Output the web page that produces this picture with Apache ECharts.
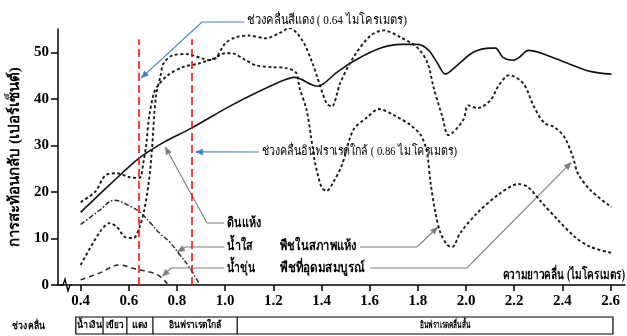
<!DOCTYPE html>
<html><head><meta charset="utf-8">
<script src="https://cdn.jsdelivr.net/npm/echarts@6/dist/echarts.min.js"></script>
<style>html,body{margin:0;padding:0;background:#fff}#c{width:627px;height:336px}</style>
</head><body><div id="c"></div>
<script>
// ---- data ----
const xTicks = [0.4, 0.6, 0.8, 1.0, 1.2, 1.4, 1.6, 1.8, 2.0, 2.2, 2.4, 2.6];
const yTicks = [0, 10, 20, 30, 40, 50];

const soilX = [0.40, 0.52, 0.644, 0.75, 0.86, 1.026, 1.225, 1.288, 1.383, 1.464, 1.540, 1.646, 1.729, 1.80, 1.845, 1.882, 1.914, 1.963, 2.030, 2.102, 2.123, 2.153, 2.196, 2.221, 2.258, 2.313, 2.424, 2.516, 2.604];
const soilY = [15.6, 21.5, 27.3, 30.8, 33.7, 38.6, 43.6, 44.6, 42.7, 45.7, 48.3, 50.9, 51.7, 51.7, 50.4, 47.6, 45.3, 47.2, 50.0, 50.9, 50.9, 48.9, 48.3, 48.9, 50.4, 49.8, 47.6, 45.9, 45.3];

const vegHealthyX = [0.40, 0.48, 0.52, 0.552, 0.584, 0.62, 0.644, 0.664, 0.684, 0.696, 0.712, 0.732, 0.744, 0.784, 0.84, 0.904, 0.932, 1.00, 1.026, 1.085, 1.128, 1.196, 1.254, 1.296, 1.308, 1.338, 1.363, 1.371, 1.40, 1.421, 1.447, 1.485, 1.532, 1.591, 1.638, 1.70, 1.771, 1.812, 1.833, 1.841, 1.853, 1.873, 1.894, 1.922, 1.943, 1.976, 2.047, 2.132, 2.217, 2.258, 2.313, 2.383, 2.448, 2.516, 2.604];
const vegHealthyY = [4.3, 11.4, 13.3, 12.4, 10.3, 10.1, 12.4, 16.1, 22.5, 29, 40.3, 45, 47.6, 49.4, 49.6, 48.7, 48.3, 49.8, 49.8, 48.3, 47.2, 46.8, 46.6, 45.5, 42.5, 37.6, 29.6, 26.8, 21, 20.2, 21.9, 25.8, 33.3, 36.1, 37.8, 36.5, 34.3, 32.2, 29.6, 27.5, 21.9, 15.5, 11.2, 8.6, 8.2, 11.2, 15.5, 19.3, 21.7, 21, 17.8, 13.9, 10.5, 8.2, 6.9];

const vegDryX = [0.40, 0.46, 0.504, 0.552, 0.60, 0.644, 0.66, 0.672, 0.684, 0.704, 0.72, 0.76, 0.824, 0.892, 0.932, 0.96, 1.00, 1.043, 1.098, 1.17, 1.225, 1.267, 1.32, 1.363, 1.421, 1.443, 1.477, 1.532, 1.604, 1.658, 1.729, 1.80, 1.841, 1.865, 1.902, 1.927, 1.988, 2.009, 2.047, 2.102, 2.136, 2.179, 2.238, 2.283, 2.325, 2.367, 2.408, 2.444, 2.464, 2.516, 2.604];
const vegDryY = [17.8, 20, 23.6, 24, 23.2, 23, 26.2, 30, 36, 41.2, 42.8, 45, 46.8, 47.6, 48.3, 48.7, 51.9, 53.2, 53.6, 53, 54.1, 55.2, 52.6, 47.6, 39, 38.4, 43.3, 48.9, 53.6, 54.7, 53.2, 50.9, 47.6, 42.5, 36.1, 32.2, 35.4, 38.6, 38, 39.7, 42.9, 45.1, 43.3, 38.2, 34.8, 33.9, 31.8, 27.5, 24, 20.4, 16.7];

const clearWaterX = [0.40, 0.48, 0.54, 0.61, 0.65, 0.69, 0.73, 0.77, 0.81, 0.85, 0.89];
const clearWaterY = [13.0, 16.1, 18.2, 16.8, 15.5, 13.3, 11.0, 9.2, 6.6, 3.9, 0.5];

const turbidWaterX = [0.40, 0.48, 0.56, 0.63, 0.70, 0.73, 0.76];
const turbidWaterY = [1.1, 2.6, 4.3, 3.4, 2.6, 1.8, 0.3];

const redBand = 0.64, nirBand = 0.86;
const bandNames = ['น้ำเงิน', 'เขียว', 'แดง', 'อินฟราเรดใกล้', 'อินฟราเรดคลื่นสั้น'];
const bandEdges = [0.38, 0.493, 0.592, 0.7, 1.05, 2.61];

const pairs = (xs, ys) => xs.map((x, i) => [x, ys[i]]);

const SERIF = "'Liberation Serif','DejaVu Serif',serif";
const chart = echarts.init(document.getElementById('c'), null, {renderer: 'canvas'});

chart.setOption({
  animation: false,
  backgroundColor: '#fff',
  grid: {left: 57, right: 2, top: 29, bottom: 51},
  xAxis: {
    type: 'value', min: 0.306, max: 2.66,
    axisLine: {lineStyle: {color: '#000', width: 1.5}},
    axisTick: {customValues: xTicks, length: 6, lineStyle: {color: '#000', width: 1.5}},
    axisLabel: {customValues: xTicks, formatter: v => v.toFixed(1), color: '#000',
      fontFamily: SERIF, fontWeight: 'bold', fontSize: 15, margin: 9},
    splitLine: {show: false}
  },
  yAxis: {
    type: 'value', min: 0, max: 55,
    name: 'การสะท้อนกลับ (เปอร์เซ็นต์)', nameLocation: 'middle', nameGap: 35, nameRotate: 90,
    nameTextStyle: {color: '#000', fontFamily: SERIF, fontWeight: 'bold', fontSize: 15},
    axisLine: {show: true, lineStyle: {color: '#000', width: 1.5}},
    axisTick: {show: true, customValues: yTicks, length: 7, lineStyle: {color: '#000', width: 1.5}},
    axisLabel: {customValues: yTicks, color: '#000', fontFamily: SERIF, fontWeight: 'bold', fontSize: 15, margin: 9},
    splitLine: {show: false}
  },
  series: [
    {name: 'ดินแห้ง', type: 'line', data: pairs(soilX, soilY), smooth: 0.3, symbol: 'none', silent: true,
      lineStyle: {color: '#111', width: 1.6}},
    {name: 'พืชที่อุดมสมบูรณ์', type: 'line', data: pairs(vegHealthyX, vegHealthyY), smooth: 0.3, symbol: 'none', silent: true,
      lineStyle: {color: '#1a1a1a', width: 1.9, type: [3, 2.5]}},
    {name: 'พืชในสภาพแห้ง', type: 'line', data: pairs(vegDryX, vegDryY), smooth: 0.3, symbol: 'none', silent: true,
      lineStyle: {color: '#1a1a1a', width: 1.9, type: [3, 2.5]}},
    {name: 'น้ำใส', type: 'line', data: pairs(clearWaterX, clearWaterY), smooth: 0.4, symbol: 'none', silent: true,
      lineStyle: {color: '#222', width: 1.4, type: [5, 2, 1.5, 2]}},
    {name: 'น้ำขุ่น', type: 'line', data: pairs(turbidWaterX, turbidWaterY), smooth: 0.4, symbol: 'none', silent: true,
      lineStyle: {color: '#222', width: 1.5, type: [5, 4]}},
    {name: 'bands', type: 'line', data: [], silent: true,
      markLine: {symbol: 'none', silent: true, label: {show: false},
        lineStyle: {color: '#ff0000', width: 1.5, type: [8, 4]},
        data: [
          [{coord: [redBand, 0]}, {coord: [redBand, 52.8]}],
          [{coord: [nirBand, 0]}, {coord: [nirBand, 52.8]}]
        ]}}
  ]
});

// ---- annotations ----
const P = (x, y) => chart.convertToPixel({gridIndex: 0}, [x, y]);
const mctx = document.createElement('canvas').getContext('2d');
function arrow(pts, color, w) {
  const n = pts.length, t = pts[n - 1], p = pts[n - 2];
  let dx = t[0] - p[0], dy = t[1] - p[1];
  const len = Math.hypot(dx, dy); dx /= len; dy /= len;
  const L = 7, W = 3;
  const a = [t[0] - dx * L - dy * W, t[1] - dy * L + dx * W];
  const b = [t[0] - dx * L + dy * W, t[1] - dy * L - dx * W];
  return [
    {type: 'polyline', silent: true, shape: {points: pts}, style: {stroke: color, lineWidth: w, fill: null}},
    {type: 'polygon', silent: true, shape: {points: [a, t, b]}, style: {fill: color, stroke: color, lineWidth: 0.5}}
  ];
}
// text squeezed horizontally to the width it has in the reference
function fitTxt(text, x, y, font, targetW, align) {
  mctx.font = font;
  const w = mctx.measureText(text).width || targetW;
  const s = Math.min(1.2, targetW / w);
  return {type: 'text', silent: true, x: x, y: y, scaleX: s,
    style: {text: text, x: 0, y: 0, font: font, fill: '#000', textAlign: align || 'left', textVerticalAlign: 'middle'}};
}
const BLUE = '#4a7ebb', GRAY = '#7f7f7f';
const reg13 = '13px ' + SERIF, bold14 = 'bold 14px ' + SERIF, bold10 = 'bold 10px ' + SERIF;
let g = [];
// red band note
g = g.concat(arrow([[244, 22], [202, 22], P(0.652, 44.5)], BLUE, 1.2));
g.push(fitTxt('ช่วงคลื่นสีแดง ( 0.64 ไมโครเมตร)', 247, 21, reg13, 160));
// nir band note
g = g.concat(arrow([[259, 152], P(0.878, 28.6)], BLUE, 1.2));
g.push(fitTxt('ช่วงคลื่นอินฟราเรดใกล้ ( 0.86 ไมโครเมตร)', 262, 152, reg13, 195));
// dry soil
g = g.concat(arrow([[224, 223], [207, 223], P(0.752, 29.6)], GRAY, 1.2));
g.push(fitTxt('ดินแห้ง', 227, 223, bold14, 34));
// clear water
g = g.concat(arrow([[224, 247], [186, 247], P(0.802, 7.2)], GRAY, 1.2));
g.push(fitTxt('น้ำใส', 227, 246, bold14, 26));
// turbid water
g = g.concat(arrow([[224, 268], [171, 268], P(0.74, 1.9)], GRAY, 1.2));
g.push(fitTxt('น้ำขุ่น', 227, 268, bold14, 28));
// dry vegetation
g = g.concat(arrow([[360, 247], [417, 247], P(1.882, 12.4)], GRAY, 1.2));
g.push(fitTxt('พืชในสภาพแห้ง', 280, 246, bold14, 77));
// healthy vegetation
g = g.concat(arrow([[370, 268], [467, 268], P(2.436, 26.3)], GRAY, 1.2));
g.push(fitTxt('พืชที่อุดมสมบูรณ์', 280, 268, bold14, 85));
// x axis title
g.push(fitTxt('ความยาวคลื่น (ไมโครเมตร)', 625, 275, bold14, 122, 'right'));
// axis break
g.push({type: 'rect', silent: true, shape: {x: 61, y: 282, width: 10, height: 6}, style: {fill: '#fff'}});
g.push({type: 'polyline', silent: true, shape: {points: [[60, 285], [63, 285], [65, 279], [68, 291], [70, 285], [72, 285]]},
  style: {stroke: '#000', lineWidth: 1.3, fill: null}});
// band table
const tTop = 317, tBot = 334;
const ex = bandEdges.map(v => P(v, 0)[0]);
g.push({type: 'rect', silent: true, shape: {x: ex[0], y: tTop, width: ex[ex.length - 1] - ex[0], height: tBot - tTop},
  style: {fill: null, stroke: '#000', lineWidth: 1.2}});
for (let i = 1; i < ex.length - 1; i++) {
  g.push({type: 'line', silent: true, shape: {x1: ex[i], y1: tTop, x2: ex[i], y2: tBot}, style: {stroke: '#000', lineWidth: 1.2}});
}
const bandW = [25, 18, 16, 53, 50];
bandNames.forEach((nm, i) => {
  const cx = i === bandNames.length - 1 ? 445 : (ex[i] + ex[i + 1]) / 2;
  g.push(fitTxt(nm, cx, (tTop + tBot) / 2, bold10, bandW[i], 'center'));
});
g.push(fitTxt('ช่วงคลื่น', 12, 326, bold10, 33));

chart.setOption({graphic: {elements: g}});
</script>
</body></html>
